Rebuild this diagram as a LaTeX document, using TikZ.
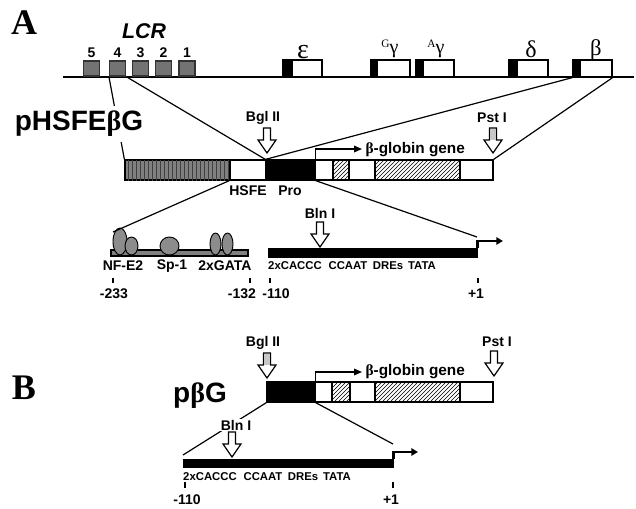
\documentclass[tikz,border=0pt]{standalone}
\usepackage{fontspec}
\setmainfont{Liberation Sans}
\newfontfamily\grk{Liberation Serif}
\usetikzlibrary{fit,shapes.geometric,patterns,arrows.meta}

\begin{document}
\begin{tikzpicture}[
  x=0.75pt, y=-0.75pt,
  every node/.style={font=\bfseries\fontsize{10.5}{12}\selectfont, inner sep=1pt},
  box/.style={draw, line width=0.9pt, inner sep=0pt, fill=white},
  lcr/.style={box, fill=black!55, draw=black!80, minimum width=12pt, minimum height=11.25pt},
  capblk/.style={box, fill=black},
  lcrgrid/.style={box, fill=black!50, postaction={pattern=vertical lines, pattern color=black!75}},
  hatch/.style={box, postaction={pattern=north east lines}},
  bar/.style={draw, fill=black, inner sep=0pt},
  prot/.style={ellipse, draw, line width=0.7pt, fill=black!45, inner sep=0pt},
  zline/.style={line width=0.9pt},
  tss/.style={line width=0.9pt, -{Triangle[length=6pt,width=5pt]}},
  tssbig/.style={line width=2.2pt, -{Triangle[length=5pt,width=5.5pt]}},
  tickmark/.style={fill=black, inner sep=0pt, minimum width=1.5pt, minimum height=4pt},
  smalltxt/.style={font=\bfseries\fontsize{8.5}{10}\selectfont},
  globtxt/.style={font=\bfseries\fontsize{11.5}{13}\selectfont, anchor=west},
  bigtxt/.style={font=\bfseries\fontsize{21}{23}\selectfont},
  panellbl/.style={font=\grk\bfseries\fontsize{27}{30}\selectfont},
  site/.pic={\draw[fill=white, line width=0.9pt] (-3.5,-25) -- (-3.5,-13) -- (-9,-13) -- (0,0) -- (9,-13) -- (3.5,-13) -- (3.5,-25) -- cycle;},
  graysite/.pic={\draw[fill=white, line width=0.9pt] (-3.5,-25) -- (-3.5,-13) -- (-9,-13) -- (0,0) -- (9,-13) -- (3.5,-13) -- (3.5,-25) -- cycle;
                 \fill[black!22] (-3,-24.5) rectangle (3,-13);}
]
\useasboundingbox (0,0) rectangle (636,508);

% ---------- A : the beta-globin locus ----------
\node[panellbl] (A) at (24,23) {A};
\coordinate (locL) at (63,77);
\coordinate (locR) at (634,77);
\draw[line width=1pt] (locL) -- (locR);

\foreach \n/\x in {5/91.5,4/117.5,3/140.5,2/163.5,1/187}
  \node[lcr, label={[name=n\n, inner sep=0pt, label distance=2pt]above:\n}] (hs\n) at (\x,68.5) {};
\node[font=\bfseries\itshape\fontsize{16}{18}\selectfont] (lcrlbl) at (144,31) {LCR};

\foreach \g/\a/\b/\c in {eps/283/292/322, gG/371/377/410, gA/416/423/454, del/509/517/548, bet/573/580/612} {
  \node[box, fit={(\b,60) (\c,77)}] (\g) {};
  \node[capblk, fit={(\a,60) (\b,77)}] (\g cap) {};
}
\node[font=\grk\fontsize{21}{21}\selectfont] (epslbl) at (303,52) {ε};
\node[font=\grk\fontsize{15}{15}\selectfont] (gGlbl) at (390,49) {\raisebox{5pt}{\fontsize{8.5}{8}\selectfont G}γ};
\node[font=\grk\fontsize{15}{15}\selectfont] (gAlbl) at (436,49) {\raisebox{5pt}{\fontsize{8.5}{8}\selectfont A}γ};
\node[font=\grk\fontsize{18}{18}\selectfont] (dellbl) at (531,49) {δ};
\node[font=\grk\fontsize{17}{17}\selectfont] (betlbl) at (596,50) {β};

% --- construct pHSFEbG ---
\node[lcrgrid, fit={(125,160) (230,180)}] (hsA) {};
\node[box, fit={(230,160) (266,180)}] (hsfe) {};
\node[capblk, fit={(266,160) (315,180)}] (proA) {};
\node[box, fit={(315,160) (493,180)}] (geneA) {};
\node[hatch, fit={(333,160) (349,180)}] (ex1A) {};
\node[hatch, fit={(375,160) (460,180)}] (ex2A) {};
\node (hsfelbl) at (248,191) {HSFE};
\node (prolbl) at (290,191) {Pro};

\pic at (267,153) {site};
\node (bglA) at (263,118) {Bgl II};
\pic at (493,153) {graysite};
\node (pstA) at (492,118) {Pst I};

\coordinate (tipA) at (362,149);
\draw[tss] (proA.north east) |- (tipA);
\node[globtxt] (globA) at (364,150) {{\grk β}-globin gene};

\draw[zline] (hs4.south west) -- (hsA.north west);
\draw[zline] (hs4.south east) -- (proA.north west);
\draw[zline] (betcap.south west) -- (proA.north west);
\draw[zline] (bet.south east) -- (geneA.north east);
\node[bigtxt, fill=white, inner sep=4pt] (pHSFE) at (79,124) {pHSFE{\grk β}G};

% --- promoter detail ---
\node[box, fill=black!50, fit={(111,250) (248,256)}] (hsbar) {};
\node[bar, fit={(268,248.5) (477,257.5)}] (proAbar) {};
\coordinate (tipAbig) at (503,241);
\draw[tssbig] (proAbar.north east) |- (tipAbig);

\node[prot, minimum width=10.5pt, minimum height=20.25pt] (nf1) at (120,241.5) {};
\node[prot, minimum width=9.75pt, minimum height=13.5pt] (nf2) at (131.5,246) {};
\node[prot, minimum width=14.25pt, minimum height=13.5pt] (sp1) at (169.5,246) {};
\node[prot, minimum width=8.25pt, minimum height=16.5pt] (gata1) at (215.5,244) {};
\node[prot, minimum width=8.25pt, minimum height=16.5pt] (gata2) at (227.5,244) {};

\coordinate (zlA) at (113,232);
\coordinate (zrA) at (477,237);
\draw[zline] (hsfe.south west) -- (zlA);
\draw[zline] (proA.south east) -- (zrA);

\pic at (320,247) {site};
\node (blnA) at (320,213) {Bln I};

\node (nfe2) at (123,266) {NF-E2};
\node (sp1lbl) at (172,266) {Sp-1};
\node (gatalbl) at (225,266) {2xGATA};
\node[smalltxt] (caccA) at (295,266) {2xCACCC};
\node[smalltxt] (ccaatA) at (348,266) {CCAAT};
\node[smalltxt] (dreA) at (388,266) {DREs};
\node[smalltxt] (tataA) at (422,266) {TATA};

\node[tickmark] (t233) at (113,280.5) {};
\node[tickmark] (t132) at (250,280.5) {};
\node[tickmark] (t110) at (270,280.5) {};
\node[tickmark] (t1) at (478,280.5) {};
\node (n233) at (114,294) {-233};
\node (n132) at (242,294) {-132};
\node (n110) at (276,294) {-110};
\node (n1) at (476,294) {+1};

% ---------- B : pbG ----------
\node[panellbl] (B) at (24,388) {B};
\node[bigtxt] (pbG) at (200,396) {p{\grk β}G};

\pic at (267,378) {graysite};
\node (bglB) at (263,343) {Bgl II};
\node[capblk, fit={(267,382) (315,402)}] (proB) {};
\node[box, fit={(315,382) (493,402)}] (geneB) {};
\node[hatch, fit={(332,382) (350,402)}] (ex1B) {};
\node[hatch, fit={(375,382) (460,402)}] (ex2B) {};
\coordinate (tipB) at (362,372);
\draw[tss] (proB.north east) |- (tipB);
\node[globtxt] (globB) at (364,372) {{\grk β}-globin gene};
\pic at (494,376) {site};
\node (pstB) at (497,342) {Pst I};

\node[bar, fit={(183,459.5) (393,467.5)}] (proBbar) {};
\coordinate (tipBbig) at (418,452);
\draw[tssbig] (proBbar.north east) |- (tipBbig);

\coordinate (zlB) at (183,455);
\coordinate (zrB) at (393,444);
\draw[zline] (proB.south west) -- (zlB);
\draw[zline] (proB.south east) -- (zrB);

\pic at (232,457) {site};
\node[fill=white] (blnB) at (236,425) {Bln I};

\node[smalltxt] (caccB) at (210,477) {2xCACCC};
\node[smalltxt] (ccaatB) at (263,477) {CCAAT};
\node[smalltxt] (dreB) at (303,477) {DREs};
\node[smalltxt] (tataB) at (337,477) {TATA};
\node[tickmark] (tB110) at (185,485) {};
\node[tickmark] (tB1) at (393,485) {};
\node (nB110) at (187,500) {-110};
\node (nB1) at (391,500) {+1};

\end{tikzpicture}
\end{document}
